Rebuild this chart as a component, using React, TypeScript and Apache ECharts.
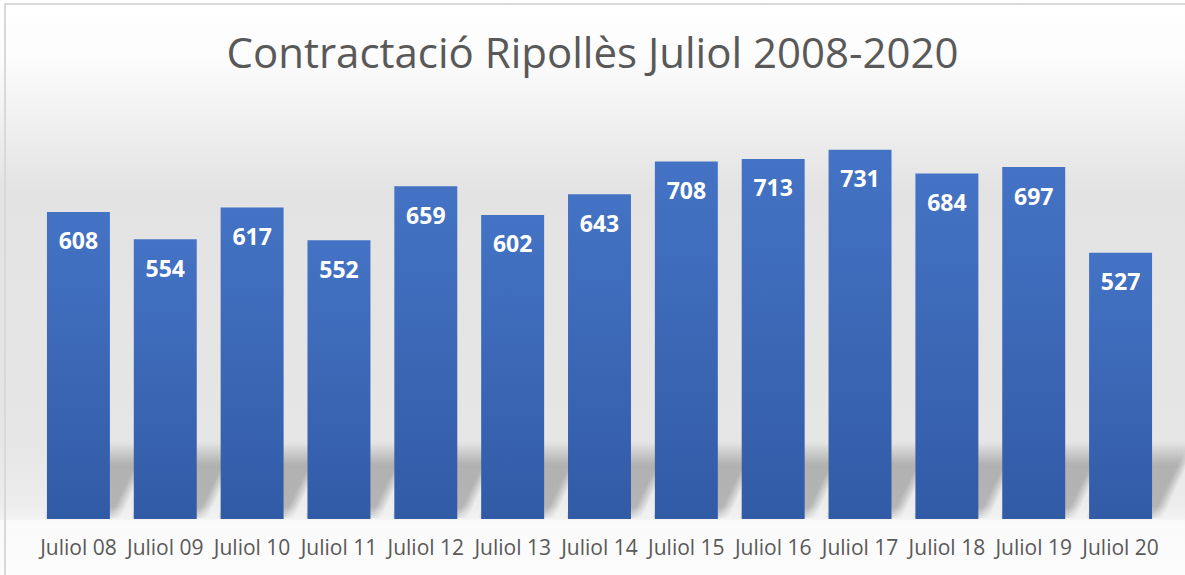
import React, { useEffect, useRef } from "react";
import * as echarts from "echarts";

const categories = [
  "Juliol 08", "Juliol 09", "Juliol 10", "Juliol 11", "Juliol 12", "Juliol 13", "Juliol 14",
  "Juliol 15", "Juliol 16", "Juliol 17", "Juliol 18", "Juliol 19", "Juliol 20",
];
const values = [608, 554, 617, 552, 659, 602, 643, 708, 713, 731, 684, 697, 527];
const titleText = "Contractació Ripollès Juliol 2008-2020";

export default function App() {
  const ref = useRef<HTMLDivElement>(null);
  useEffect(() => {
    if (!ref.current) return;
    const chart = echarts.init(ref.current, undefined, { renderer: "svg" });
    const barRatio = 0.725;
    chart.setOption({
      animation: false,
      title: {
        text: titleText,
        left: "center",
        top: 25,
        textStyle: { fontFamily: "Open Sans", fontSize: 42, fontWeight: "normal", color: "#595959" },
      },
      graphic: [
        {
          type: "rect",
          shape: { x: 5, y: 4, width: 1200, height: 600 },
          style: { fill: "none", stroke: "#d9d9d9", lineWidth: 2 },
          silent: true,
        },
      ],
      grid: { left: 35, right: 21, top: 115, bottom: 56 },
      xAxis: {
        type: "category",
        data: categories,
        axisLine: { show: false },
        axisTick: { show: false },
        axisLabel: { fontFamily: "Open Sans", fontSize: 21, color: "#595959", margin: 17, interval: 0 },
      },
      yAxis: { type: "value", min: 0, max: 800, show: false, splitLine: { show: false } },
      series: [
        {
          type: "custom",
          z: 1,
          silent: true,
          data: values,
          clip: false,
          renderItem: (params: any, api: any) => {
            const idx = params.dataIndex;
            const base = api.coord([idx, 0]);
            const w = api.size([1, 0])[0] * barRatio;
            const x0 = base[0] - w / 2;
            const x1 = base[0] + w / 2;
            const y0 = base[1];
            const h = 74;
            const dx = 36;
            const layers: any[] = [];
            for (let k = 0; k <= 10; k += 2) {
              layers.push({
                type: "polygon",
                shape: {
                  points: [
                    [x0 - k * 0.3, y0 - 1],
                    [x1 + k, y0 - 1],
                    [x1 + dx + k, y0 - h - k * 0.6],
                    [x0 + dx - k, y0 - h - k * 0.6],
                  ],
                },
                style: {
                  fill: {
                    type: "linear", x: 0, y: 0, x2: 0, y2: 1,
                    colorStops: [
                      { offset: 0, color: "rgba(0,0,0,0.0)" },
                      { offset: 0.3, color: "rgba(0,0,0,0.045)" },
                      { offset: 0.85, color: "rgba(0,0,0,0.045)" },
                      { offset: 1, color: "rgba(0,0,0,0.015)" },
                    ],
                  },
                },
              });
            }
            return { type: "group", children: layers };
          },
          encode: { x: 0, y: 1 },
        },
        {
          type: "bar",
          z: 2,
          data: values,
          barCategoryGap: "27.5%",
          itemStyle: {
            color: {
              type: "linear", x: 0, y: 0, x2: 0, y2: 1,
              colorStops: [
                { offset: 0, color: "#4473c5" },
                { offset: 1, color: "#325ba6" },
              ],
            },
          },
          label: {
            show: true,
            position: "insideTop",
            distance: 17,
            color: "#ffffff",
            fontFamily: "Open Sans",
            fontWeight: "bold",
            fontSize: 23,
          },
        },
      ],
    });
    return () => chart.dispose();
  }, []);
  return (
    <div
      ref={ref}
      style={{
        position: "absolute",
        left: 0,
        top: 0,
        width: 1185,
        height: 575,
        background:
          "linear-gradient(to bottom, #ffffff 0%, #fcfcfc 10%, #e3e3e3 33%, #e6e6e6 77%, #ededed 88%, #f3f3f3 90.3%, #fafafa 90.6%, #fcfcfc 100%)",
      }}
    />
  );
}
